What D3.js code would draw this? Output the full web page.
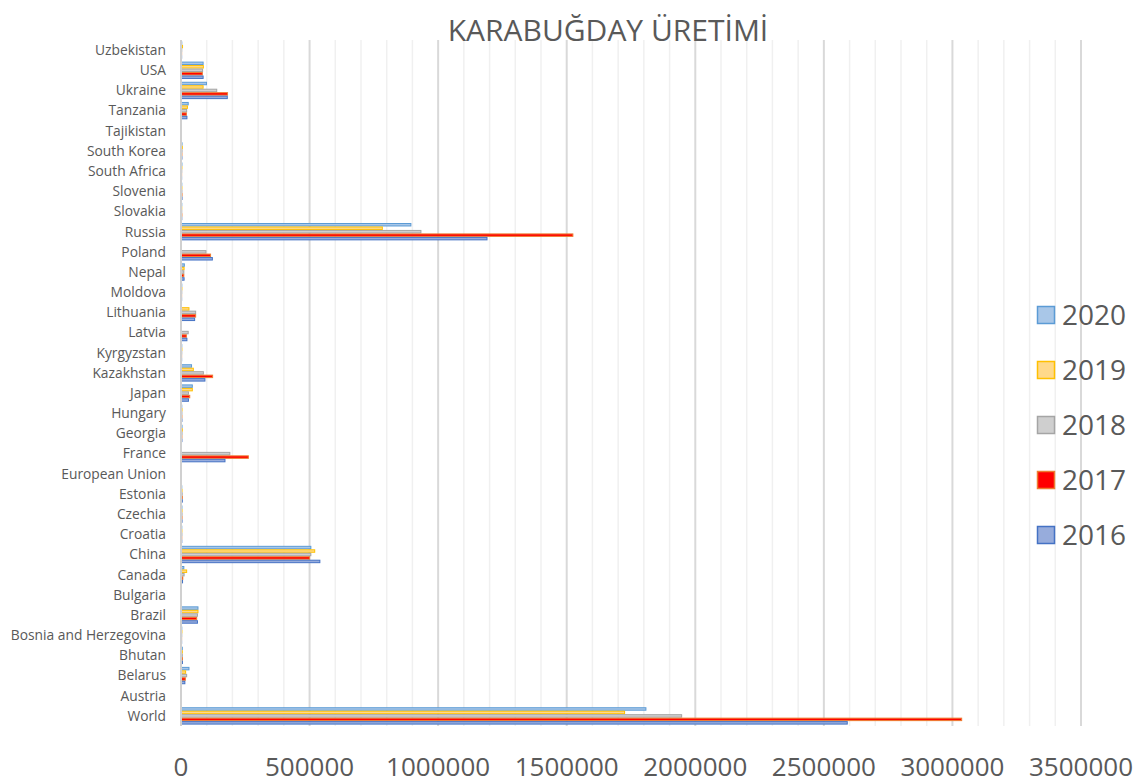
<!DOCTYPE html>
<html>
<head>
<meta charset="utf-8">
<script src="https://cdn.jsdelivr.net/npm/d3@7"></script>
<style>
  html, body { margin: 0; padding: 0; background: #ffffff; }
  svg { display: block; }
  text { font-family: "Open Sans", "Liberation Sans", sans-serif; fill: #595959; }
</style>
</head>
<body>
<svg id="chart" width="1143" height="784"></svg>
<script>
// Buckwheat production (tonnes) by country, 2016–2020
const countries = [
  "Uzbekistan", "USA", "Ukraine", "Tanzania", "Tajikistan", "South Korea",
  "South Africa", "Slovenia", "Slovakia", "Russia", "Poland", "Nepal",
  "Moldova", "Lithuania", "Latvia", "Kyrgyzstan", "Kazakhstan", "Japan",
  "Hungary", "Georgia", "France", "European Union", "Estonia", "Czechia",
  "Croatia", "China", "Canada", "Bulgaria", "Brazil", "Bosnia and Herzegovina",
  "Bhutan", "Belarus", "Austria", "World"
];

const years = ["2020", "2019", "2018", "2017", "2016"];

const values2020 = [3000, 86000, 99000, 28000, null, 4000, 3500, 3000, 3000, 894000, null, 13000,
  3000, null, null, 3000, 41000, 44000, 3000, 4000, null, null, 3000, 3500,
  3000, 505000, 11000, null, 66000, 3000, 5000, 31000, null, 1808000];
const values2019 = [6000, 87000, 86000, 25000, null, 5000, 3500, 3500, 3000, 783000, null, 12000,
  3500, 31000, null, 3500, 48000, 44000, 4000, 5000, null, null, 4000, 4000,
  3500, 520000, 22000, null, 66000, 3500, 5000, 18000, null, 1725000];
const values2018 = [3000, 84000, 139000, 22000, null, 4000, 3000, 3500, 3000, 933000, 97000, 11000,
  3000, 57000, 28000, 3000, 87000, 29000, 3500, 4000, 190000, null, 4500, 4000,
  3500, 505000, 12000, null, 64000, 3000, 5000, 22000, null, 1947000];
const values2017 = [2500, 83000, 181000, 21000, null, 3500, 2500, 4000, 3500, 1524000, 115000, 11000,
  2500, 57000, 21000, 2500, 123000, 34000, 3500, 3500, 262000, null, 5000, 4000,
  3000, 500000, 7000, null, 61000, 2500, 5500, 17000, null, 3036000];
const values2016 = [2500, 86000, 180000, 23000, null, 3500, 2500, 4000, 3000, 1190000, 122000, 12000,
  2500, 53000, 23000, 2500, 93000, 29000, 3500, 3500, 171000, null, 5000, 4000,
  3000, 540000, 6000, null, 64000, 2500, 5500, 15000, null, 2591000];

const xTicks = [0, 500000, 1000000, 1500000, 2000000, 2500000, 3000000, 3500000];

const seriesStyle = {
  "2020": { fill: "#a9c7e8", stroke: "#5b9bd5" },
  "2019": { fill: "#ffd98a", stroke: "#ffc000" },
  "2018": { fill: "#cfcfcf", stroke: "#a5a5a5" },
  "2017": { fill: "#ff0000", stroke: "#ed7d31" },
  "2016": { fill: "#97acdc", stroke: "#4472c4" }
};

const seriesValues = {
  "2020": values2020, "2019": values2019, "2018": values2018,
  "2017": values2017, "2016": values2016
};

const svg = d3.select("#chart");

const plot = { left: 181, right: 1081, top: 40, bottom: 726 };

const x = d3.scaleLinear().domain([0, 3500000]).range([plot.left, plot.right]);
const y = d3.scaleBand().domain(countries).range([plot.top, plot.bottom])
  .paddingInner(0.14).paddingOuter(0.07);
const ySub = d3.scaleBand().domain(years).range([0, y.bandwidth()]);

// Minor gridlines every 100 000
const minor = d3.range(100000, 3500001, 100000).filter(v => v % 500000 !== 0);
svg.append("g").selectAll("line").data(minor).join("line")
  .attr("x1", d => x(d)).attr("x2", d => x(d))
  .attr("y1", plot.top).attr("y2", plot.bottom)
  .attr("stroke", "#f0f0f0").attr("stroke-width", 1.5);

// Major gridlines
svg.append("g").selectAll("line").data(xTicks.slice(1)).join("line")
  .attr("x1", d => x(d)).attr("x2", d => x(d))
  .attr("y1", plot.top).attr("y2", plot.bottom)
  .attr("stroke", "#d9d9d9").attr("stroke-width", 2);

// Bars
const rows = [];
countries.forEach((c, i) => {
  years.forEach(yr => {
    const v = seriesValues[yr][i];
    if (v != null) rows.push({ country: c, year: yr, value: v });
  });
});

svg.append("g").selectAll("rect").data(rows).join("rect")
  .attr("x", x(0))
  .attr("y", d => y(d.country) + ySub(d.year) + 0.5)
  .attr("width", d => Math.max(0.5, x(d.value) - x(0)))
  .attr("height", ySub.bandwidth() - 1)
  .attr("fill", d => seriesStyle[d.year].fill)
  .attr("stroke", d => seriesStyle[d.year].stroke)
  .attr("stroke-width", 1);

// Category axis line
svg.append("line")
  .attr("x1", plot.left).attr("x2", plot.left)
  .attr("y1", plot.top).attr("y2", plot.bottom)
  .attr("stroke", "#d0d0d0").attr("stroke-width", 2);

// Category labels
svg.append("g").selectAll("text").data(countries).join("text")
  .attr("x", 166)
  .attr("y", d => y(d) + y.bandwidth() / 2)
  .attr("dy", "0.35em")
  .attr("text-anchor", "end")
  .style("font-size", "13.8px")
  .text(d => d);

// Value axis labels
svg.append("g").selectAll("text").data(xTicks).join("text")
  .attr("x", d => x(d))
  .attr("y", 776)
  .attr("text-anchor", "middle")
  .style("font-size", "26px")
  .text(d => d3.format("d")(d));

// Title
svg.append("text")
  .attr("x", 608).attr("y", 41)
  .attr("text-anchor", "middle")
  .style("font-size", "30px")
  .text("KARABUĞDAY ÜRETİMİ");

// Legend
const legend = svg.append("g").selectAll("g").data(years).join("g")
  .attr("transform", (d, i) => `translate(1037, ${315 + i * 55})`);
legend.append("rect")
  .attr("x", 0.5).attr("y", -8.5).attr("width", 17).attr("height", 17)
  .attr("fill", d => seriesStyle[d].fill)
  .attr("stroke", d => seriesStyle[d].stroke)
  .attr("stroke-width", 1.5);
legend.append("text")
  .attr("x", 25).attr("y", 0).attr("dy", "0.36em")
  .style("font-size", "28px")
  .text(d => d);
</script>
</body>
</html>
